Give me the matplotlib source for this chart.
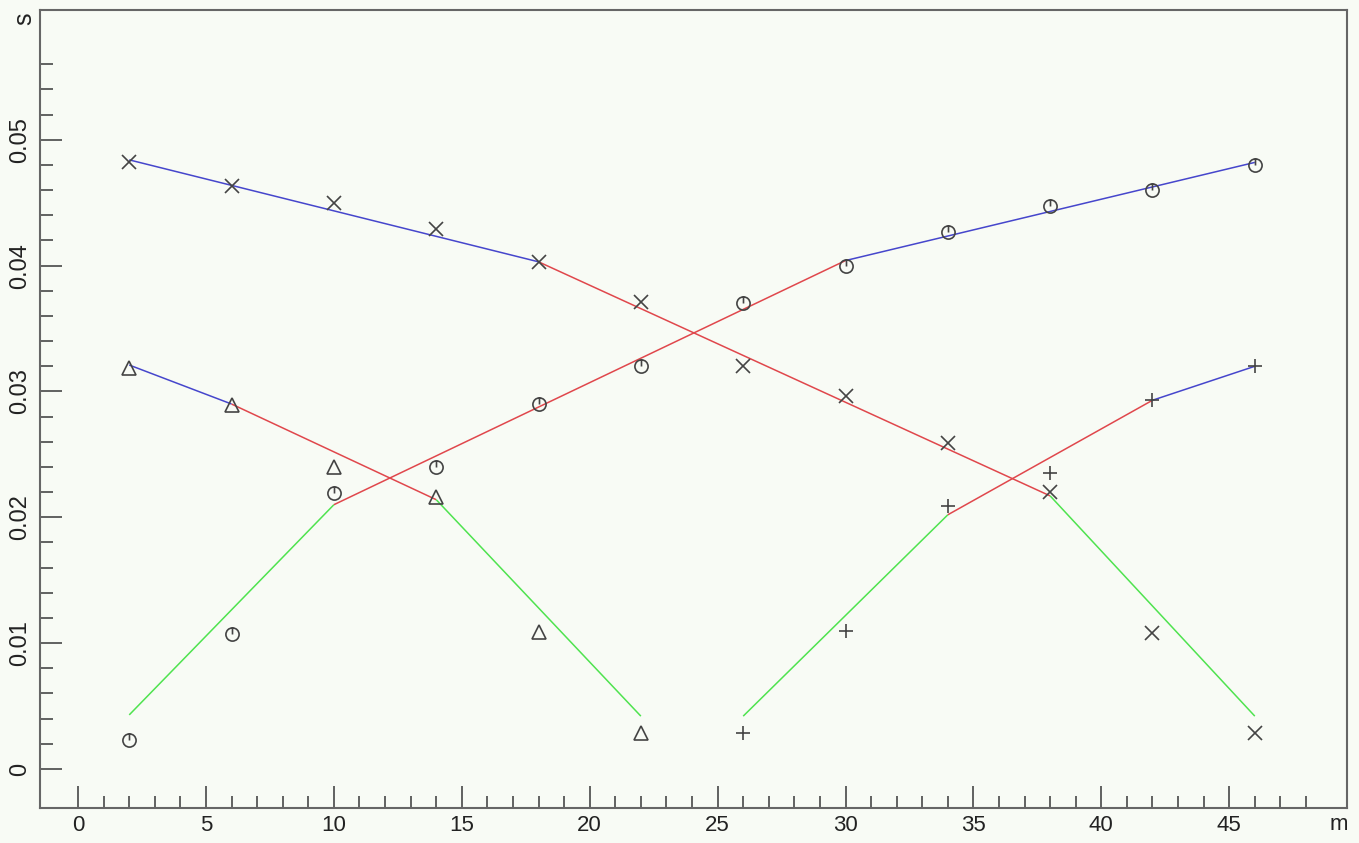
import matplotlib.pyplot as plt
import numpy as np
from matplotlib.path import Path
from matplotlib.ticker import FixedLocator

# measured points
x_cross = [2, 6, 10, 14, 18, 22, 26, 30, 34, 38, 42, 46]
y_cross = [0.0482, 0.0463, 0.0450, 0.0429, 0.0403, 0.0371, 0.0320, 0.0296, 0.0259, 0.0220, 0.0108, 0.0029]

x_circ = [2, 6, 10, 14, 18, 22, 26, 30, 34, 38, 42, 46]
y_circ = [0.0023, 0.0107, 0.0219, 0.0240, 0.0290, 0.0320, 0.0370, 0.0400, 0.0427, 0.0447, 0.0460, 0.0480]

x_tri = [2, 6, 10, 14, 18, 22]
y_tri = [0.0319, 0.0289, 0.0240, 0.0216, 0.0109, 0.0029]

x_plus = [26, 30, 34, 38, 42, 46]
y_plus = [0.0029, 0.0110, 0.0209, 0.0235, 0.0293, 0.0320]

# piecewise fits: breakpoints and colour of each piece
fit_cross_x = [2, 18, 38, 46]
fit_cross_y = [0.0484, 0.0403, 0.0217, 0.0042]
fit_cross_c = ['blue', 'red', 'green']

fit_circ_x = [2, 10, 30, 46]
fit_circ_y = [0.0043, 0.0210, 0.0404, 0.0482]
fit_circ_c = ['green', 'red', 'blue']

fit_tri_x = [2, 6, 14, 22]
fit_tri_y = [0.0321, 0.0290, 0.0214, 0.0042]
fit_tri_c = ['blue', 'red', 'green']

fit_plus_x = [26, 34, 42, 46]
fit_plus_y = [0.0042, 0.0202, 0.0293, 0.0320]
fit_plus_c = ['green', 'red', 'blue']

x_major = [0, 5, 10, 15, 20, 25, 30, 35, 40, 45]
y_major = [0, 0.01, 0.02, 0.03, 0.04, 0.05]
y_labels = ['0', '0.01', '0.02', '0.03', '0.04', '0.05']

colours = {'blue': '#4646cc', 'red': '#e0474c', 'green': '#4fe34f'}
bg = '#f8fbf5'
ink = '#444444'

# circle with a stroke from the top down to the centre
circ_marker = Path.make_compound_path(
    Path.unit_circle(),
    Path([(0, 1), (0, 0)], [Path.MOVETO, Path.LINETO]))

plt.rcParams['font.family'] = ['Liberation Sans', 'DejaVu Sans']

fig = plt.figure(figsize=(13.59, 8.43), dpi=100, facecolor=bg)
ax = fig.add_axes([0.0294, 0.0415, 0.9617, 0.9465], facecolor=bg)


def draw_fit(xs, ys, cs):
    for i in range(len(cs)):
        ax.plot(xs[i:i + 2], ys[i:i + 2], color=colours[cs[i]], lw=1.1,
                solid_capstyle='butt', zorder=2)


draw_fit(fit_cross_x, fit_cross_y, fit_cross_c)
draw_fit(fit_circ_x, fit_circ_y, fit_circ_c)
draw_fit(fit_tri_x, fit_tri_y, fit_tri_c)
draw_fit(fit_plus_x, fit_plus_y, fit_plus_c)

mk = dict(linestyle='none', color=ink, markerfacecolor='none',
          markeredgecolor=ink, markeredgewidth=1.2, zorder=3)
ax.plot(x_cross, y_cross, marker='x', markersize=10, **mk)
ax.plot(x_circ, y_circ, marker=circ_marker, markersize=9.5, **mk)
ax.plot(x_tri, y_tri, marker='^', markersize=9.5, **mk)
ax.plot(x_plus, y_plus, marker='+', markersize=10, **mk)

ax.set_xlim(-1.49, 49.6)
ax.set_ylim(-0.0031, 0.0603)

ax.xaxis.set_major_locator(FixedLocator(x_major))
ax.xaxis.set_minor_locator(FixedLocator(np.arange(0, 49, 1)))
ax.yaxis.set_major_locator(FixedLocator(y_major))
ax.yaxis.set_minor_locator(FixedLocator(np.arange(0, 0.0565, 0.002)))
ax.set_xticklabels([str(v) for v in x_major])
ax.set_yticklabels(y_labels)

ax.tick_params(which='both', direction='in', color='#555555', width=1.3,
               top=False, right=False)
ax.tick_params(which='major', length=16)
ax.tick_params(which='minor', length=9)
ax.tick_params(axis='x', labelsize=16, pad=5, labelcolor='#222222')
ax.tick_params(axis='y', labelsize=17, pad=6, labelrotation=90,
               labelcolor='#222222')
for lab in ax.get_yticklabels():
    lab.set_va('center')

for sp in ax.spines.values():
    sp.set_color('#666666')
    sp.set_linewidth(1.5)

fig.text(24 / 1359, 1 - 19 / 843, 's', rotation=90, fontsize=18,
         ha='center', va='center', color='#222222')
fig.text(1339 / 1359, 1 - 824 / 843, 'm', fontsize=16,
         ha='center', va='center', color='#222222')

fig.savefig('out.png', dpi=100, facecolor=bg)
